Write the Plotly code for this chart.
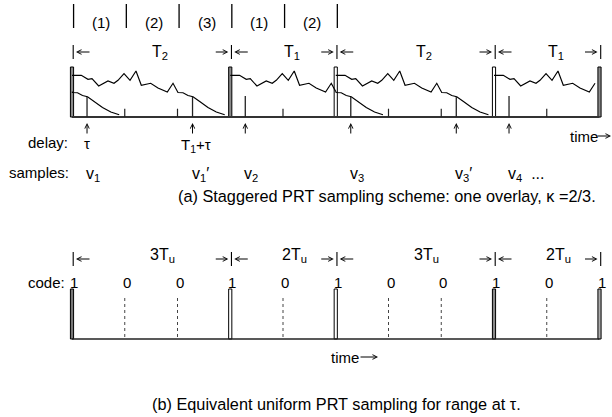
import plotly.graph_objects as go
import numpy as np

# ---------------- timing, in units of Tu ----------------
pulse_times = [0, 3, 5, 8, 10]
interval_lengths = [3, 2, 3, 2]
interval_labels = ["T<sub>2</sub>", "T<sub>1</sub>", "T<sub>2</sub>", "T<sub>1</sub>"]
segment_marks = [0, 1, 2, 3, 4, 5]
segment_labels = ["(1)", "(2)", "(3)", "(1)", "(2)"]

# echo profile after one transmitted pulse (time in Tu, amplitude)
echo_t = [0.0, 0.176, 0.303, 0.379, 0.506, 0.682, 0.796, 0.872, 0.986, 1.10,
          1.213, 1.314, 1.492, 1.630, 1.807, 1.915, 2.009, 2.104, 2.199, 2.294,
          2.421, 2.578, 2.736, 2.895]
echo_h = [41.7, 41.7, 37.7, 38.3, 31.0, 36.0, 33.7, 36.7, 43.3, 36.7,
          46.0, 31.7, 33.7, 29.0, 25.0, 33.7, 24.5, 24.3, 21.5, 20.2,
          15.5, 9.5, 5.0, 2.3]
echo_visible_end = [2.895, 2.0, 2.895, 1.915]   # last drawn time in each interval
tail_from_pulse = [-2, 3]                          # pulses whose second-trip tail shows
tail_start = 2.0

pulse_height = 50
tau = 0.285
sample_times = [0.285, 2.285, 3.285, 5.285, 7.285, 8.285]
sample_heights = [20.0, 20.3, 21.0, 20.0, 20.3, 21.0]
sample_labels = ["v<sub>1</sub>", "v<sub>1</sub>′", "v<sub>2</sub>",
                 "v<sub>3</sub>", "v<sub>3</sub>′", "v<sub>4</sub>  ..."]
delay_labels = {0.285: "τ", 2.285: "T<sub>1</sub>+τ"}
tick_times = [1, 2, 4, 6, 7, 9]
tick_height = 8.3

# equivalent uniform sampling
code_times = list(range(11))
code_bits = [1, 0, 0, 1, 0, 1, 0, 0, 1, 0, 1]
uniform_labels = ["3T<sub>u</sub>", "2T<sub>u</sub>", "3T<sub>u</sub>", "2T<sub>u</sub>"]
zero_height = 0.84

W, H = 612, 417
PX_PER_TU = 52.75
X0 = 72
FONT = "Liberation Sans, Arial, Helvetica, sans-serif"


def py(p):
    """pixel row -> paper y"""
    return 1 - p / H


def px(p):
    """pixel column -> time axis value"""
    return (p - X0) / PX_PER_TU


def dpx(d):
    """pixel distance -> time distance"""
    return d / PX_PER_TU


fig = go.Figure()

# ---------------- panel (a) ----------------
fig.add_trace(go.Scatter(x=[pulse_times[0], pulse_times[-1]], y=[0, 0], mode="lines",
                         line=dict(color="#333", width=2), hoverinfo="skip"))

et = np.array(echo_t)
eh = np.array(echo_h)
# first-trip echoes in each interval
for p, end in zip(pulse_times[:-1], echo_visible_end):
    keep = et < end - 1e-6
    tt = list(et[keep]) + [end]
    hh = list(eh[keep]) + [float(np.interp(end, et, eh))]
    fig.add_trace(go.Scatter(x=[p + t for t in tt], y=hh, mode="lines",
                             line=dict(color="black", width=1.15), hoverinfo="skip"))

# second-trip tails overlaid at the start of the long intervals
for p in tail_from_pulse:
    keep = et > tail_start + 1e-6
    tt = [tail_start] + list(et[keep])
    hh = [float(np.interp(tail_start, et, eh))] + list(eh[keep])
    fig.add_trace(go.Scatter(x=[p + t for t in tt], y=hh, mode="lines",
                             line=dict(color="black", width=1.15), hoverinfo="skip"))

# sample lines
sx, sy = [], []
for t, h in zip(sample_times, sample_heights):
    sx += [t, t, None]
    sy += [0, h, None]
fig.add_trace(go.Scatter(x=sx, y=sy, mode="lines", line=dict(color="#222", width=1.3),
                         hoverinfo="skip"))

# Tu boundary ticks
kx, ky = [], []
for t in tick_times:
    kx += [t, t, None]
    ky += [0, tick_height, None]
fig.add_trace(go.Scatter(x=kx, y=ky, mode="lines", line=dict(color="#222", width=1.2),
                         hoverinfo="skip"))

# transmitted pulses
fig.add_trace(go.Bar(x=pulse_times, y=[pulse_height] * len(pulse_times), width=0.06,
                     marker=dict(color=["#8a8a8a", "#8a8a8a", "white", "white", "#8a8a8a"],
                                 line=dict(color="black", width=1)),
                     hoverinfo="skip"))

# ---------------- panel (b) ----------------
fig.add_trace(go.Scatter(x=[code_times[0], code_times[-1]], y=[0, 0], mode="lines", yaxis="y2",
                         line=dict(color="#222", width=1.6), hoverinfo="skip"))
ones = [t for t, b in zip(code_times, code_bits) if b == 1]
fig.add_trace(go.Bar(x=ones, y=[1] * len(ones), width=0.06, yaxis="y2",
                     marker=dict(color=["#777", "white", "white", "#888", "#aaa"],
                                 line=dict(color="black", width=1)),
                     hoverinfo="skip"))
zx, zy = [], []
for t, b in zip(code_times, code_bits):
    if b == 0:
        zx += [t, t, None]
        zy += [0.04, zero_height, None]
fig.add_trace(go.Scatter(x=zx, y=zy, mode="lines", yaxis="y2",
                         line=dict(color="#444", width=1, dash="dot"), hoverinfo="skip"))

# ---------------- text and arrows ----------------
ann = []
shapes = []


def text(x, y, s, xanchor="center", size=15, xref="x"):
    if xref == "paper":
        x = x / W
    ann.append(dict(x=x, y=py(y), xref=xref, yref="paper", text=s, showarrow=False,
                    xanchor=xanchor, yanchor="middle",
                    font=dict(family=FONT, size=size, color="black")))


def arrow(x, y, ax, ay):
    """thin arrow with its tip at (x, pixel row y); tail offset (ax, ay) in pixels"""
    ann.append(dict(x=x, y=py(y), xref="x", yref="paper", text="", showarrow=True,
                    ax=ax, ay=ay, arrowhead=5, arrowsize=0.9, arrowwidth=1,
                    arrowcolor="black", standoff=0, startstandoff=0))


def vbar(x, y0, y1, width=1.2):
    shapes.append(dict(type="line", xref="x", yref="paper", x0=x, x1=x,
                       y0=py(y0), y1=py(y1), line=dict(color="black", width=width)))


def spans(y, labels, label_dx, label_dy):
    """|<-   label   ->|<-   label   ->| ... along the pulse times"""
    for p in pulse_times:
        vbar(p + dpx(1.2), y - 7, y + 7, 1.1)
    for p, L, lab in zip(pulse_times[:-1], interval_lengths, labels):
        arrow(p + dpx(4), y, 15, 0)
        arrow(p + L - dpx(2), y, -14, 0)
        text(p + L / 2 + label_dx, y + label_dy, lab, xanchor="left", size=16)


for m in segment_marks:
    vbar(m + 0.03, 4, 28, 1.3)
for i, lab in enumerate(segment_labels):
    text(segment_marks[i] + 0.55, 22, lab)

# interval spans, panel (a)
spans(52, interval_labels, -0.02, 1)

# delay row
for t in sample_times:
    arrow(t, 123, 0, 12)
for t, lab in delay_labels.items():
    if lab == "τ":
        text(t, 143, lab)
    else:
        text(t - dpx(14), 145, lab, xanchor="left")
text(70, 142, "delay:", xanchor="right", xref="paper")
text(px(568), 136, "time", xanchor="left")
arrow(px(611), 136, -15, 0)

# samples row
text(71, 172, "samples:", xanchor="right", xref="paper")
for t, lab in zip(sample_times, sample_labels):
    text(t - dpx(3), 174, lab, xanchor="left", size=16)

text(px(176), 196, "(a) Staggered PRT sampling scheme: one overlay, κ =2/3.",
     xanchor="left", size=16.3)

# interval spans, panel (b)
spans(259, uniform_labels, -0.06, -3)

text(67, 282, "code:", xanchor="right", xref="paper")
for t, b in zip(code_times, code_bits):
    text(t + 0.04, 282, str(b))

text(px(329), 357, "time", xanchor="left")
arrow(px(378), 357, -19, 0)
text(px(150), 404, "(b) Equivalent uniform PRT sampling for range at τ.",
     xanchor="left", size=16.3)

fig.update_layout(
    width=W, height=H, margin=dict(l=0, r=0, t=0, b=0),
    paper_bgcolor="white", plot_bgcolor="white",
    showlegend=False, barmode="overlay",
    xaxis=dict(range=[px(0), px(W)], visible=False, fixedrange=True),
    yaxis=dict(range=[117 - H, 117], visible=False, fixedrange=True),
    yaxis2=dict(range=[-(H - 339) / 50, 339 / 50], overlaying="y", visible=False,
                fixedrange=True),
    annotations=ann, shapes=shapes,
)

fig.write_html("out.html")
